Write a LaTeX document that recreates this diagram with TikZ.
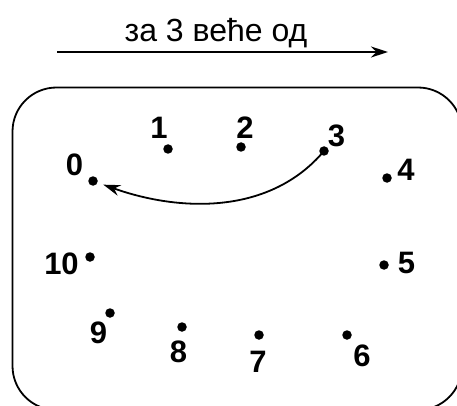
\documentclass[tikz,border=0pt]{standalone}
\usepackage{fontspec}
\setmainfont{Liberation Sans}
\usetikzlibrary{arrows.meta}

\begin{document}
\begin{tikzpicture}[
  x=1pt, y=-1pt,
  dot/.style={circle, fill, inner sep=0pt, minimum size=9.5pt},
  num/.style={font=\fontsize{31}{33}\selectfont\bfseries, inner sep=0pt},
  arrow/.style={-{Stealth[length=17pt, width=11pt]}, line width=1.8pt}
]
\useasboundingbox (0,0) rectangle (457,406);

% title and direction arrow
\node[font=\fontsize{32}{34}\selectfont, inner sep=0pt, anchor=base] (title) at (216,42) {за 3 веће од};
\coordinate (arrowL) at (57,52);
\coordinate (arrowR) at (388,52);
\draw[arrow] (arrowL) -- (arrowR);

% frame
\draw[line width=1.8pt, rounded corners=44pt] (12.5,87.5) rectangle (462,410);

% dots with their numbers
\foreach \n/\x/\y/\lx/\ly in {0/93/181/74.5/165, 1/168/149/159/128, 2/241/147/245/127.5,
  3/324/151/336.5/135.5, 4/387/178/406/169.5, 5/384/265/406.5/262.5,
  6/347/335/362/356, 7/259/335/258/362, 8/182/327/178.5/352,
  9/110/313/98.5/333, 10/90/257/61.5/264} {
  \node[dot] (d\n) at (\x,\y) {};
  \node[num] (l\n) at (\lx,\ly) {\n};
}

\draw[arrow, shorten >=6pt] (d3.center) .. controls (270,215) and (180,212) .. (d0);

\end{tikzpicture}
\end{document}
